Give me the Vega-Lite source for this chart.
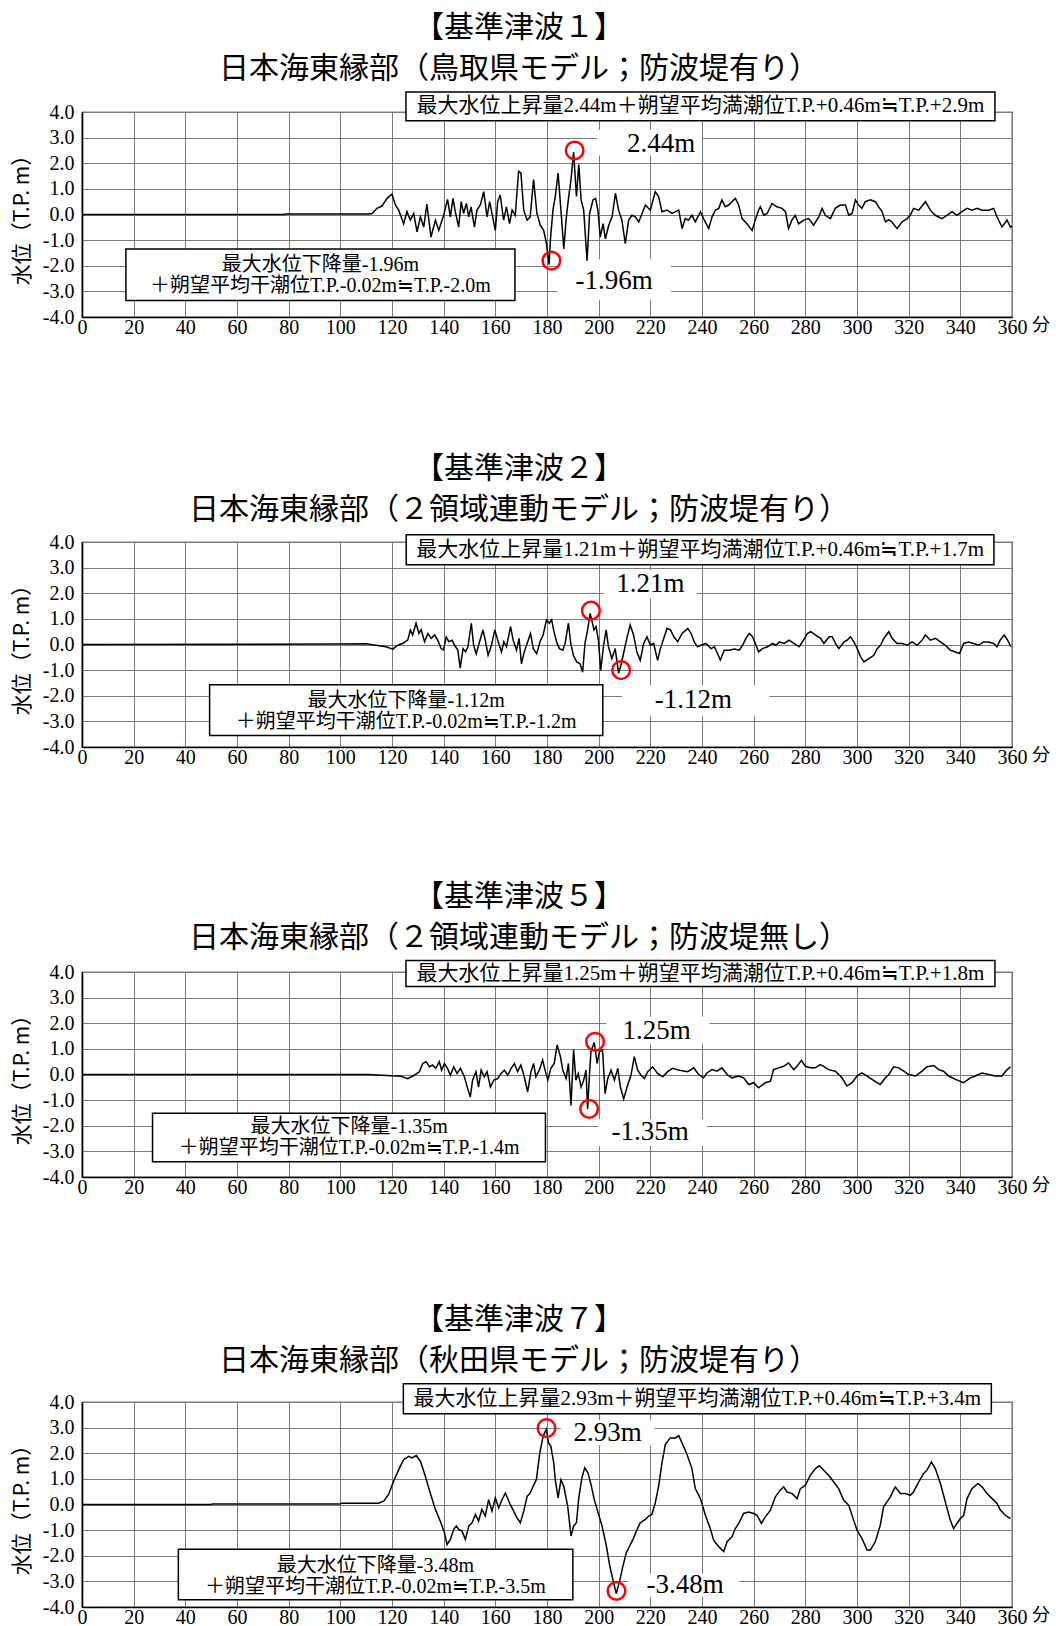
{
"$schema": "https://vega.github.io/schema/vega-lite/v6.json",
"background": "white",
"padding": {"left": 10, "top": 12, "right": 5, "bottom": 5},
"spacing": 225,
"bounds": "flush",
"config": {
  "view": {"stroke": "#000", "strokeWidth": 1.2},
  "axis": {"gridColor": "#7a7a7a", "gridWidth": 1, "gridOpacity": 1, "domainColor": "#000", "domainWidth": 1.6, "ticks": false, "labelFont": "Liberation Serif", "labelFontSize": 20, "labelColor": "#000", "labelOverlap": false, "titleFont": "Noto Sans CJK JP", "titleFontWeight": "normal", "titleFontSize": 21, "titleColor": "#000"},
  "axisX": {"labelPadding": 0, "labelFlush": false},
  "axisY": {"labelPadding": 8, "titlePadding": 10},
  "title": {"font": "Noto Sans CJK JP", "fontSize": 30, "fontWeight": "normal", "lineHeight": 41, "dx": -28, "offset": 7, "color": "#000", "anchor": "middle"}
},
"datasets": {
"d1": [{"t":0,"v":0},{"t":78,"v":0},{"t":79,"v":0.02},{"t":111,"v":0.02},{"t":112.3,"v":0.04},{"t":114.2,"v":0.24},{"t":116.1,"v":0.33},{"t":118.1,"v":0.63},{"t":120,"v":0.8},{"t":121.3,"v":0.37},{"t":122.6,"v":0.17},{"t":124.5,"v":-0.36},{"t":125.8,"v":0.11},{"t":127.1,"v":-0.22},{"t":128.4,"v":0.04},{"t":129.7,"v":-0.68},{"t":131,"v":-0.09},{"t":132.3,"v":-0.49},{"t":133.5,"v":0.41},{"t":135.1,"v":-0.88},{"t":136.8,"v":-0.22},{"t":138.1,"v":-0.62},{"t":140,"v":-0.03},{"t":141.5,"v":0.59},{"t":142.6,"v":-0.09},{"t":143.6,"v":0.63},{"t":144.5,"v":0.11},{"t":145.8,"v":-0.49},{"t":146.8,"v":0.5},{"t":147.7,"v":0.04},{"t":148.8,"v":0.43},{"t":149.7,"v":-0.09},{"t":150.6,"v":0.3},{"t":151.9,"v":-0.49},{"t":152.9,"v":0.17},{"t":154.2,"v":0.37},{"t":155.5,"v":0.89},{"t":156.8,"v":-0.09},{"t":157.8,"v":0.5},{"t":158.7,"v":0.04},{"t":160,"v":-0.62},{"t":160.9,"v":0.5},{"t":161.9,"v":0.76},{"t":163.2,"v":-0.22},{"t":164.3,"v":0.3},{"t":165.5,"v":-0.36},{"t":166.5,"v":0.17},{"t":167.7,"v":-0.03},{"t":169,"v":1.68},{"t":169.9,"v":1.62},{"t":171,"v":0.17},{"t":172.3,"v":-0.22},{"t":173.5,"v":-0.09},{"t":174.8,"v":1.36},{"t":176.1,"v":0.04},{"t":177.4,"v":-0.42},{"t":178.7,"v":-0.62},{"t":179.7,"v":-1.08},{"t":180.8,"v":-1.96},{"t":181.3,"v":-1.01},{"t":182.3,"v":0.17},{"t":183.2,"v":0.7},{"t":184.3,"v":1.62},{"t":185.2,"v":0.43},{"t":186.5,"v":-1.34},{"t":187.5,"v":-0.09},{"t":188.4,"v":0.7},{"t":189.3,"v":1.36},{"t":190.3,"v":2.44},{"t":191.4,"v":0.7},{"t":192.3,"v":1.95},{"t":193.2,"v":0.57},{"t":194.2,"v":0.17},{"t":195.5,"v":-1.8},{"t":196.5,"v":0.04},{"t":197.8,"v":0.57},{"t":198.8,"v":0.63},{"t":199.7,"v":0.17},{"t":200.6,"v":-0.88},{"t":201.7,"v":-0.36},{"t":202.6,"v":-0.95},{"t":203.9,"v":-0.42},{"t":205.2,"v":-0.09},{"t":206.5,"v":0.83},{"t":207.7,"v":0.17},{"t":209,"v":-0.22},{"t":210.3,"v":-1.14},{"t":211.6,"v":-0.22},{"t":212.9,"v":-0.03},{"t":214.2,"v":-0.09},{"t":215.5,"v":-0.29},{"t":216.8,"v":0.04},{"t":218.1,"v":0.37},{"t":220,"v":0.17},{"t":221.9,"v":0.89},{"t":223.2,"v":0.7},{"t":224.5,"v":0.11},{"t":226.5,"v":0.17},{"t":228.4,"v":0.04},{"t":231,"v":0.17},{"t":232.3,"v":-0.55},{"t":233.5,"v":-0.16},{"t":234.8,"v":-0.22},{"t":236.1,"v":-0.03},{"t":237.4,"v":-0.29},{"t":239.4,"v":0.11},{"t":240.6,"v":-0.16},{"t":242.6,"v":-0.55},{"t":243.9,"v":-0.09},{"t":245.2,"v":0.17},{"t":246.5,"v":0.24},{"t":247.7,"v":0.57},{"t":249,"v":0.3},{"t":250.3,"v":0.37},{"t":251.6,"v":0.5},{"t":252.9,"v":0.63},{"t":254.2,"v":0.37},{"t":255.5,"v":-0.16},{"t":257.4,"v":-0.36},{"t":259.4,"v":-0.62},{"t":260.6,"v":-0.22},{"t":261.9,"v":0.17},{"t":262.6,"v":0.3},{"t":263.9,"v":-0.03},{"t":265.2,"v":0.04},{"t":267.1,"v":0.43},{"t":269,"v":0.3},{"t":271,"v":0.24},{"t":272.3,"v":0.11},{"t":273.5,"v":-0.55},{"t":274.8,"v":-0.22},{"t":276.1,"v":-0.03},{"t":277.4,"v":-0.36},{"t":279.4,"v":-0.22},{"t":281.3,"v":-0.16},{"t":283.2,"v":-0.42},{"t":285.2,"v":-0.09},{"t":286.5,"v":0.24},{"t":287.7,"v":-0.03},{"t":289.7,"v":-0.16},{"t":291.6,"v":0.24},{"t":293.5,"v":0.37},{"t":295.5,"v":0.37},{"t":296.8,"v":-0.03},{"t":298.1,"v":0.04},{"t":299.4,"v":0.57},{"t":300.6,"v":0.37},{"t":301.9,"v":0.24},{"t":303.2,"v":0.5},{"t":305.2,"v":0.57},{"t":307.1,"v":0.5},{"t":308.4,"v":0.3},{"t":309.7,"v":0.11},{"t":311,"v":-0.29},{"t":312.3,"v":-0.2},{"t":313.5,"v":-0.29},{"t":315.5,"v":-0.55},{"t":317.4,"v":-0.29},{"t":319.4,"v":-0.16},{"t":320.6,"v":-0.03},{"t":321.9,"v":0.24},{"t":323.9,"v":0.17},{"t":326.5,"v":0.5},{"t":328.4,"v":0.17},{"t":330.3,"v":-0.03},{"t":332.9,"v":-0.16},{"t":334.8,"v":-0.03},{"t":336.8,"v":0.11},{"t":338.7,"v":-0.03},{"t":340.6,"v":0.11},{"t":342.6,"v":0.24},{"t":344.5,"v":0.17},{"t":346.5,"v":0.24},{"t":348.4,"v":0.17},{"t":351,"v":0.17},{"t":352.9,"v":0.24},{"t":354.2,"v":-0.09},{"t":356.1,"v":-0.49},{"t":358.1,"v":-0.22},{"t":359.4,"v":-0.49},{"t":360,"v":-0.45}],
"d2": [{"t":0,"v":0},{"t":100,"v":0.02},{"t":109.9,"v":0.03},{"t":117.7,"v":-0.09},{"t":120.3,"v":-0.18},{"t":122.2,"v":-0.03},{"t":124.1,"v":0.04},{"t":126.1,"v":0.17},{"t":127.1,"v":0.57},{"t":128,"v":0.37},{"t":129.3,"v":0.83},{"t":130.4,"v":0.43},{"t":131.3,"v":0.57},{"t":132.6,"v":0.11},{"t":133.9,"v":0.43},{"t":135.2,"v":0.24},{"t":136.5,"v":0.37},{"t":137.7,"v":0.17},{"t":139,"v":-0.16},{"t":139.9,"v":-0.22},{"t":141,"v":0.3},{"t":142,"v":0.11},{"t":143.3,"v":0.17},{"t":144.2,"v":-0.03},{"t":145.5,"v":-0.22},{"t":146.4,"v":-0.92},{"t":147.5,"v":-0.16},{"t":148.5,"v":-0.29},{"t":149.4,"v":-0.09},{"t":150.7,"v":0.83},{"t":151.6,"v":-0.03},{"t":152.6,"v":-0.36},{"t":153.9,"v":0.11},{"t":155.2,"v":0.57},{"t":156.1,"v":0.17},{"t":157.2,"v":-0.42},{"t":158.5,"v":-0.03},{"t":159.8,"v":0.57},{"t":161.1,"v":0.11},{"t":162.4,"v":-0.29},{"t":163.3,"v":0.11},{"t":164.3,"v":-0.09},{"t":165.9,"v":0.7},{"t":166.9,"v":0.17},{"t":168.2,"v":-0.22},{"t":169.2,"v":0.24},{"t":170.1,"v":-0.75},{"t":171.2,"v":-0.29},{"t":172.3,"v":0.04},{"t":173.6,"v":0.43},{"t":174.7,"v":-0.16},{"t":176,"v":-0.36},{"t":177.3,"v":0.11},{"t":178.5,"v":0.37},{"t":179.8,"v":0.96},{"t":180.9,"v":0.83},{"t":181.8,"v":0.96},{"t":182.7,"v":0.5},{"t":183.7,"v":0.11},{"t":184.8,"v":-0.16},{"t":186.1,"v":-0.22},{"t":187,"v":0.04},{"t":188.3,"v":0.83},{"t":189.2,"v":0.04},{"t":190.2,"v":-0.42},{"t":191.5,"v":-0.68},{"t":192.8,"v":-0.75},{"t":193.8,"v":-1.08},{"t":194.7,"v":0.04},{"t":195.6,"v":0.5},{"t":196.7,"v":1.21},{"t":197.3,"v":0.96},{"t":198.2,"v":0.57},{"t":199,"v":0.7},{"t":199.9,"v":0.17},{"t":200.8,"v":-1.01},{"t":201.9,"v":-0.03},{"t":202.9,"v":0.57},{"t":203.8,"v":-0.09},{"t":205.1,"v":-0.55},{"t":206.4,"v":-0.16},{"t":207.7,"v":-1.12},{"t":208.6,"v":-0.82},{"t":209.6,"v":-0.36},{"t":210.9,"v":0.24},{"t":212.2,"v":0.76},{"t":213.5,"v":0.37},{"t":214.8,"v":-0.29},{"t":216.1,"v":-0.62},{"t":217.4,"v":0.04},{"t":218.7,"v":0.3},{"t":220,"v":-0.03},{"t":221.3,"v":0.04},{"t":222.8,"v":-0.62},{"t":223.9,"v":-0.16},{"t":225.2,"v":0.24},{"t":226.5,"v":0.63},{"t":227.8,"v":0.57},{"t":229.1,"v":0.3},{"t":230.6,"v":0.11},{"t":232.3,"v":0.43},{"t":234.5,"v":0.63},{"t":235.8,"v":0.43},{"t":237,"v":0.1},{"t":238.3,"v":-0.09},{"t":239.6,"v":-0.03},{"t":241.5,"v":0.04},{"t":243.5,"v":-0.16},{"t":244.8,"v":-0.09},{"t":246,"v":-0.35},{"t":247.1,"v":-0.61},{"t":248.6,"v":-0.22},{"t":250.6,"v":-0.22},{"t":252.5,"v":-0.18},{"t":254.4,"v":-0.22},{"t":255.7,"v":-0.03},{"t":257,"v":0.24},{"t":258.3,"v":0.43},{"t":259.6,"v":0.3},{"t":260.9,"v":-0.03},{"t":261.9,"v":-0.29},{"t":263.4,"v":-0.16},{"t":265.4,"v":-0.09},{"t":267.3,"v":0.04},{"t":268.6,"v":-0.03},{"t":269.9,"v":0.1},{"t":271.8,"v":0.04},{"t":273.7,"v":0.17},{"t":275.6,"v":0.04},{"t":277.6,"v":-0.09},{"t":279.3,"v":0.17},{"t":280.8,"v":0.43},{"t":282.1,"v":0.5},{"t":284,"v":0.37},{"t":285.9,"v":0.24},{"t":287.2,"v":0.04},{"t":289.2,"v":0.3},{"t":290.4,"v":0.3},{"t":292.1,"v":-0.03},{"t":293,"v":-0.16},{"t":295,"v":0.1},{"t":296.2,"v":0.17},{"t":297.5,"v":0.3},{"t":298.8,"v":0.1},{"t":300.1,"v":-0.16},{"t":301.4,"v":-0.48},{"t":302.7,"v":-0.68},{"t":304.6,"v":-0.55},{"t":306.5,"v":-0.42},{"t":307.8,"v":-0.16},{"t":309.1,"v":-0.03},{"t":310.4,"v":0.24},{"t":312.3,"v":0.5},{"t":313.6,"v":0.24},{"t":315.5,"v":0.04},{"t":317.5,"v":0.04},{"t":319.4,"v":-0.03},{"t":321.3,"v":0.1},{"t":323.3,"v":-0.03},{"t":325.2,"v":0.17},{"t":326.5,"v":0.37},{"t":328.4,"v":0.17},{"t":330.4,"v":0.24},{"t":332.3,"v":0.1},{"t":334.2,"v":-0.03},{"t":336.1,"v":-0.22},{"t":338.1,"v":-0.29},{"t":339.7,"v":-0.35},{"t":341.3,"v":0.04},{"t":343.2,"v":0.1},{"t":345.1,"v":0.04},{"t":347.1,"v":-0.03},{"t":349,"v":0.1},{"t":350.9,"v":0.1},{"t":352.9,"v":0.04},{"t":354.2,"v":-0.09},{"t":355.4,"v":0.17},{"t":357,"v":0.37},{"t":358.3,"v":0.17},{"t":359.6,"v":-0.09}],
"d3": [{"t":0,"v":0},{"t":110.6,"v":0},{"t":123.5,"v":-0.07},{"t":126.1,"v":-0.16},{"t":128.6,"v":-0.03},{"t":130.6,"v":0.11},{"t":131.9,"v":0.43},{"t":133.2,"v":0.5},{"t":134.5,"v":0.3},{"t":135.7,"v":0.37},{"t":137,"v":0.24},{"t":138.3,"v":0.5},{"t":139.2,"v":0.17},{"t":140.3,"v":0.43},{"t":141.5,"v":0.24},{"t":142.6,"v":-0.03},{"t":143.9,"v":0.3},{"t":145.2,"v":0.04},{"t":146.5,"v":0.24},{"t":148,"v":-0.09},{"t":149.3,"v":-0.55},{"t":150.3,"v":-0.88},{"t":151.2,"v":-0.22},{"t":152.5,"v":0.11},{"t":153.5,"v":-0.49},{"t":154.5,"v":0.17},{"t":155.7,"v":-0.09},{"t":156.8,"v":0.11},{"t":158.1,"v":-0.49},{"t":159.4,"v":-0.22},{"t":160.9,"v":-0.16},{"t":162.2,"v":0.04},{"t":163.5,"v":0.17},{"t":164.8,"v":-0.03},{"t":166.1,"v":0.24},{"t":167.4,"v":0.43},{"t":168.6,"v":0.11},{"t":169.9,"v":0.37},{"t":171.2,"v":-0.09},{"t":172.5,"v":-0.68},{"t":173.8,"v":0.11},{"t":174.8,"v":0.43},{"t":175.7,"v":-0.09},{"t":177,"v":0.17},{"t":178.3,"v":0.57},{"t":179.4,"v":0.11},{"t":180.3,"v":-0.22},{"t":181.5,"v":0.24},{"t":182.8,"v":0.43},{"t":183.9,"v":1.16},{"t":185.2,"v":0.7},{"t":186.1,"v":0.17},{"t":187.4,"v":-0.16},{"t":188.3,"v":0.43},{"t":189.3,"v":-1.21},{"t":190.3,"v":0.96},{"t":191.2,"v":-0.22},{"t":192.1,"v":0.04},{"t":193.2,"v":-0.49},{"t":194.2,"v":-0.22},{"t":195.1,"v":0.17},{"t":195.7,"v":-1.35},{"t":196.4,"v":-0.09},{"t":197,"v":0.89},{"t":198.3,"v":1.25},{"t":199.4,"v":0.43},{"t":200.3,"v":0.89},{"t":201.5,"v":0.96},{"t":202.5,"v":-0.75},{"t":203.5,"v":-0.16},{"t":204.8,"v":0.17},{"t":206.1,"v":-0.22},{"t":207.4,"v":0.24},{"t":208.4,"v":-0.49},{"t":209.7,"v":-0.95},{"t":211,"v":-0.49},{"t":212.5,"v":-0.03},{"t":213.8,"v":0.7},{"t":215.1,"v":0.17},{"t":216.4,"v":-0.03},{"t":217.7,"v":-0.16},{"t":219,"v":0.11},{"t":220.9,"v":0.3},{"t":222.8,"v":0.04},{"t":224.8,"v":-0.09},{"t":226.7,"v":0.11},{"t":228.6,"v":0.24},{"t":231.2,"v":0.17},{"t":234.5,"v":0.11},{"t":236.8,"v":0.26},{"t":238.7,"v":0},{"t":240.6,"v":-0.13},{"t":241.9,"v":0.06},{"t":243.9,"v":0.19},{"t":245.8,"v":0.13},{"t":247.7,"v":0.26},{"t":249.7,"v":0},{"t":251.6,"v":-0.13},{"t":254.2,"v":-0.06},{"t":256.1,"v":-0.13},{"t":258.1,"v":-0.39},{"t":260,"v":-0.32},{"t":261.9,"v":-0.52},{"t":264.5,"v":-0.32},{"t":266.5,"v":-0.26},{"t":267.7,"v":0.19},{"t":269.7,"v":0.26},{"t":271.6,"v":0.32},{"t":273.5,"v":0.45},{"t":275.5,"v":0.19},{"t":276.8,"v":0.32},{"t":278.5,"v":0.55},{"t":280,"v":0.32},{"t":281.9,"v":0.26},{"t":283.9,"v":0.26},{"t":285.8,"v":0.39},{"t":287.1,"v":0.32},{"t":289,"v":0.19},{"t":291.6,"v":0.13},{"t":294.2,"v":-0.13},{"t":296.1,"v":-0.45},{"t":298.1,"v":-0.32},{"t":300,"v":-0.06},{"t":301.9,"v":0.06},{"t":303.9,"v":-0.06},{"t":305.8,"v":-0.19},{"t":307.7,"v":-0.32},{"t":309,"v":-0.39},{"t":311,"v":-0.13},{"t":312.3,"v":0},{"t":314.2,"v":0.3},{"t":316.1,"v":0.26},{"t":318.1,"v":0.13},{"t":320,"v":0},{"t":322.6,"v":-0.06},{"t":325.2,"v":0.13},{"t":327.1,"v":0.3},{"t":329.7,"v":0.35},{"t":331.6,"v":0.19},{"t":333.5,"v":0.13},{"t":335.5,"v":-0.06},{"t":338.1,"v":-0.19},{"t":341.3,"v":-0.32},{"t":343.9,"v":-0.13},{"t":345.8,"v":-0.06},{"t":348.4,"v":0.06},{"t":351,"v":0},{"t":353.5,"v":-0.06},{"t":356.1,"v":-0.06},{"t":358.1,"v":0.19},{"t":359.4,"v":0.3}],
"d4": [{"t":0,"v":0},{"t":50,"v":0},{"t":50.5,"v":0.02},{"t":100,"v":0.02},{"t":100.5,"v":0.05},{"t":114.8,"v":0.05},{"t":116.8,"v":0.13},{"t":118.7,"v":0.39},{"t":120.6,"v":0.91},{"t":122.6,"v":1.36},{"t":124.5,"v":1.75},{"t":126.5,"v":1.88},{"t":127.7,"v":1.82},{"t":129.4,"v":1.91},{"t":131,"v":1.69},{"t":132.9,"v":1.1},{"t":134.8,"v":0.45},{"t":136.8,"v":-0.19},{"t":138.7,"v":-0.65},{"t":140.3,"v":-1.1},{"t":141.3,"v":-1.56},{"t":142.6,"v":-1.36},{"t":143.9,"v":-0.97},{"t":144.9,"v":-0.84},{"t":145.8,"v":-0.97},{"t":147.1,"v":-1.04},{"t":148.4,"v":-1.36},{"t":149.7,"v":-0.84},{"t":151,"v":-0.71},{"t":152.3,"v":-0.39},{"t":153.5,"v":-0.65},{"t":154.8,"v":-0.19},{"t":156.1,"v":-0.45},{"t":157.4,"v":0.19},{"t":158.7,"v":-0.26},{"t":160,"v":0.26},{"t":161.3,"v":-0.13},{"t":162.6,"v":0.19},{"t":163.9,"v":0.45},{"t":165.5,"v":0.06},{"t":167.1,"v":-0.26},{"t":168.4,"v":-0.52},{"t":169.7,"v":-0.71},{"t":171,"v":-0.26},{"t":172.3,"v":0.32},{"t":173.5,"v":0.45},{"t":174.6,"v":0.71},{"t":175.9,"v":0.97},{"t":177.2,"v":2.01},{"t":178.5,"v":2.66},{"t":179.7,"v":2.93},{"t":180.6,"v":2.4},{"t":181.5,"v":2.27},{"t":182.6,"v":1.62},{"t":183.2,"v":0.97},{"t":184.3,"v":0.26},{"t":185.4,"v":0.97},{"t":186.5,"v":0.71},{"t":188,"v":-0.06},{"t":189.3,"v":-1.23},{"t":190.3,"v":-0.84},{"t":191.4,"v":-0.71},{"t":192.3,"v":0.26},{"t":193.5,"v":1.04},{"t":194.6,"v":1.43},{"t":195.9,"v":1.23},{"t":197.2,"v":0.71},{"t":198.3,"v":0.19},{"t":199.6,"v":-0.26},{"t":201.3,"v":-0.84},{"t":203,"v":-1.62},{"t":204.3,"v":-2.4},{"t":205.5,"v":-2.92},{"t":206.8,"v":-3.48},{"t":208.1,"v":-2.99},{"t":209.4,"v":-2.4},{"t":210.7,"v":-1.88},{"t":212,"v":-1.62},{"t":213.3,"v":-1.36},{"t":214.6,"v":-1.04},{"t":216.1,"v":-0.71},{"t":218.1,"v":-0.58},{"t":219.4,"v":-0.45},{"t":220.6,"v":-0.39},{"t":221.9,"v":0.06},{"t":223.2,"v":0.71},{"t":224.5,"v":1.62},{"t":225.8,"v":2.34},{"t":227.7,"v":2.6},{"t":229.7,"v":2.6},{"t":231,"v":2.69},{"t":232.3,"v":2.4},{"t":234.2,"v":1.95},{"t":236.1,"v":1.4},{"t":237.4,"v":0.62},{"t":239.4,"v":0.23},{"t":241.3,"v":-0.42},{"t":243.2,"v":-0.94},{"t":244.5,"v":-1.39},{"t":246.5,"v":-1.65},{"t":248.4,"v":-1.84},{"t":249.7,"v":-1.45},{"t":251.6,"v":-1.26},{"t":252.9,"v":-0.94},{"t":254.2,"v":-0.74},{"t":256.1,"v":-0.35},{"t":258.1,"v":-0.29},{"t":260,"v":-0.35},{"t":261.3,"v":-0.42},{"t":263,"v":-0.74},{"t":264.5,"v":-0.48},{"t":266.5,"v":-0.22},{"t":268.4,"v":0.3},{"t":270.3,"v":0.56},{"t":271.6,"v":0.69},{"t":272.9,"v":0.49},{"t":274.8,"v":0.43},{"t":276.8,"v":0.23},{"t":278.1,"v":0.62},{"t":280,"v":0.75},{"t":281.9,"v":1.14},{"t":283.9,"v":1.4},{"t":285.4,"v":1.51},{"t":287.1,"v":1.34},{"t":289,"v":1.14},{"t":291,"v":0.88},{"t":292.9,"v":0.62},{"t":294.8,"v":0.17},{"t":296.8,"v":-0.03},{"t":298.7,"v":-0.61},{"t":300,"v":-1.0},{"t":301.9,"v":-1.32},{"t":303.9,"v":-1.78},{"t":305.2,"v":-1.78},{"t":307.1,"v":-1.45},{"t":309,"v":-0.81},{"t":310.3,"v":-0.09},{"t":311.6,"v":0.1},{"t":312.9,"v":0.3},{"t":314.8,"v":0.69},{"t":316.8,"v":0.43},{"t":318.7,"v":0.43},{"t":320.6,"v":0.36},{"t":321.9,"v":0.49},{"t":323.9,"v":0.88},{"t":325.8,"v":1.21},{"t":327.1,"v":1.34},{"t":328.8,"v":1.66},{"t":330.3,"v":1.4},{"t":332.3,"v":0.82},{"t":334.2,"v":0.1},{"t":336.1,"v":-0.61},{"t":337.4,"v":-0.94},{"t":338.7,"v":-0.74},{"t":340,"v":-0.55},{"t":341.3,"v":-0.42},{"t":342.6,"v":0.23},{"t":344.5,"v":0.62},{"t":346.8,"v":0.82},{"t":348.4,"v":0.69},{"t":350.3,"v":0.43},{"t":352.3,"v":0.23},{"t":354.2,"v":0.04},{"t":355.5,"v":-0.22},{"t":357.4,"v":-0.42},{"t":359.4,"v":-0.55}],
"c1": [{"t":190.7,"v":2.5},{"t":181.7,"v":-1.8}],
"c2": [{"t":197,"v":1.32},{"t":208.7,"v":-1.0}],
"c3": [{"t":198.6,"v":1.28},{"t":196.3,"v":-1.34}],
"c4": [{"t":179.8,"v":2.98},{"t":206.9,"v":-3.37}]
},
"vconcat": [
{
 "title": {"text": ["【基準津波１】", "日本海東縁部（鳥取県モデル；防波堤有り）"]},
 "width": 930, "height": 205,
 "layer": [
  {"data": {"values": [{}]}, "mark": {"type": "rect", "fill": "white"}, "encoding": {"x": {"datum": 199.4, "type": "quantitative"}, "x2": {"datum": 240}, "y": {"datum": 3.3, "type": "quantitative"}, "y2": {"datum": 2.3}}},
  {"data": {"values": [{}]}, "mark": {"type": "rect", "fill": "white"}, "encoding": {"x": {"datum": 184, "type": "quantitative"}, "x2": {"datum": 228}, "y": {"datum": -1.75, "type": "quantitative"}, "y2": {"datum": -3.35}}},
  {"data": {"name": "d1"}, "mark": {"type": "line", "color": "#000", "strokeWidth": 1.5}, "encoding": {
    "x": {"field": "t", "type": "quantitative", "scale": {"domain": [0, 360], "nice": false, "zero": false}, "axis": {"values": [0,20,40,60,80,100,120,140,160,180,200,220,240,260,280,300,320,340,360], "tickCount": 19, "title": null, "grid": true}},
    "y": {"field": "v", "type": "quantitative", "scale": {"domain": [-4, 4], "nice": false}, "axis": {"values": [-4,-3,-2,-1,0,1,2,3,4], "tickCount": 9, "labelExpr": "replace(format(datum.value, '.1f'), '−', '-')", "title": "水位（T.P. m）", "grid": true}}}},
  {"data": {"values": [{}]}, "mark": {"type": "rect", "fill": "white", "stroke": "#000", "strokeWidth": 1.5}, "encoding": {"x": {"datum": 125.4, "type": "quantitative"}, "x2": {"datum": 353.4}, "y": {"datum": 4.78, "type": "quantitative"}, "y2": {"datum": 3.66}}},
  {"data": {"values": [{}]}, "mark": {"type": "rect", "fill": "white", "stroke": "#000", "strokeWidth": 1.5}, "encoding": {"x": {"datum": 17, "type": "quantitative"}, "x2": {"datum": 167.6}, "y": {"datum": -1.35, "type": "quantitative"}, "y2": {"datum": -3.36}}},
  {"data": {"values": [{}]}, "mark": {"type": "text", "text": "最大水位上昇量2.44m＋朔望平均満潮位T.P.+0.46m≒T.P.+2.9m", "font": "Liberation Serif, Noto Sans CJK JP", "fontSize": 21, "align": "center", "baseline": "middle", "color": "#000"}, "encoding": {"x": {"datum": 239.4, "type": "quantitative"}, "y": {"datum": 4.22, "type": "quantitative"}}},
  {"data": {"values": [{}]}, "mark": {"type": "text", "text": ["最大水位下降量-1.96m", "＋朔望平均干潮位T.P.-0.02m≒T.P.-2.0m"], "lineHeight": 21, "font": "Liberation Serif, Noto Sans CJK JP", "fontSize": 20, "align": "center", "baseline": "middle", "color": "#000"}, "encoding": {"x": {"datum": 92.3, "type": "quantitative"}, "y": {"datum": -1.97, "type": "quantitative"}}},
  {"data": {"values": [{}]}, "mark": {"type": "text", "text": "2.44m", "font": "Liberation Serif", "fontSize": 27, "align": "center", "baseline": "middle", "color": "#000"}, "encoding": {"x": {"datum": 224.2, "type": "quantitative"}, "y": {"datum": 2.74, "type": "quantitative"}}},
  {"data": {"values": [{}]}, "mark": {"type": "text", "text": "-1.96m", "font": "Liberation Serif", "fontSize": 27, "align": "center", "baseline": "middle", "color": "#000"}, "encoding": {"x": {"datum": 206, "type": "quantitative"}, "y": {"datum": -2.61, "type": "quantitative"}}},
  {"data": {"name": "c1"}, "mark": {"type": "point", "shape": "circle", "filled": false, "stroke": "#ff0000", "strokeWidth": 2.5, "size": 310, "opacity": 1}, "encoding": {"x": {"field": "t", "type": "quantitative"}, "y": {"field": "v", "type": "quantitative"}}},
  {"data": {"values": [{}]}, "mark": {"type": "text", "text": "分", "font": "Noto Sans CJK JP", "fontSize": 18, "dx": 29, "dy": 9, "align": "center", "baseline": "middle", "color": "#000"}, "encoding": {"x": {"datum": 360, "type": "quantitative"}, "y": {"datum": -4, "type": "quantitative"}}}
 ]
},
{
 "title": {"text": ["【基準津波２】", "日本海東縁部（２領域連動モデル；防波堤有り）"]},
 "width": 930, "height": 205,
 "layer": [
  {"data": {"values": [{}]}, "mark": {"type": "rect", "fill": "white"}, "encoding": {"x": {"datum": 202, "type": "quantitative"}, "x2": {"datum": 238}, "y": {"datum": 2.9, "type": "quantitative"}, "y2": {"datum": 1.8}}},
  {"data": {"values": [{}]}, "mark": {"type": "rect", "fill": "white"}, "encoding": {"x": {"datum": 209, "type": "quantitative"}, "x2": {"datum": 266}, "y": {"datum": -1.6, "type": "quantitative"}, "y2": {"datum": -2.8}}},
  {"data": {"name": "d2"}, "mark": {"type": "line", "color": "#000", "strokeWidth": 1.5}, "encoding": {
    "x": {"field": "t", "type": "quantitative", "scale": {"domain": [0, 360], "nice": false, "zero": false}, "axis": {"values": [0,20,40,60,80,100,120,140,160,180,200,220,240,260,280,300,320,340,360], "tickCount": 19, "title": null, "grid": true}},
    "y": {"field": "v", "type": "quantitative", "scale": {"domain": [-4, 4], "nice": false}, "axis": {"values": [-4,-3,-2,-1,0,1,2,3,4], "tickCount": 9, "labelExpr": "replace(format(datum.value, '.1f'), '−', '-')", "title": "水位（T.P. m）", "grid": true}}}},
  {"data": {"values": [{}]}, "mark": {"type": "rect", "fill": "white", "stroke": "#000", "strokeWidth": 1.5}, "encoding": {"x": {"datum": 125.5, "type": "quantitative"}, "x2": {"datum": 353}, "y": {"datum": 4.28, "type": "quantitative"}, "y2": {"datum": 3.11}}},
  {"data": {"values": [{}]}, "mark": {"type": "rect", "fill": "white", "stroke": "#000", "strokeWidth": 1.5}, "encoding": {"x": {"datum": 49.4, "type": "quantitative"}, "x2": {"datum": 201.6}, "y": {"datum": -1.57, "type": "quantitative"}, "y2": {"datum": -3.55}}},
  {"data": {"values": [{}]}, "mark": {"type": "text", "text": "最大水位上昇量1.21m＋朔望平均満潮位T.P.+0.46m≒T.P.+1.7m", "font": "Liberation Serif, Noto Sans CJK JP", "fontSize": 21, "align": "center", "baseline": "middle", "color": "#000"}, "encoding": {"x": {"datum": 239.3, "type": "quantitative"}, "y": {"datum": 3.7, "type": "quantitative"}}},
  {"data": {"values": [{}]}, "mark": {"type": "text", "text": ["最大水位下降量-1.12m", "＋朔望平均干潮位T.P.-0.02m≒T.P.-1.2m"], "lineHeight": 21, "font": "Liberation Serif, Noto Sans CJK JP", "fontSize": 20, "align": "center", "baseline": "middle", "color": "#000"}, "encoding": {"x": {"datum": 125.5, "type": "quantitative"}, "y": {"datum": -2.2, "type": "quantitative"}}},
  {"data": {"values": [{}]}, "mark": {"type": "text", "text": "1.21m", "font": "Liberation Serif", "fontSize": 27, "align": "center", "baseline": "middle", "color": "#000"}, "encoding": {"x": {"datum": 220, "type": "quantitative"}, "y": {"datum": 2.35, "type": "quantitative"}}},
  {"data": {"values": [{}]}, "mark": {"type": "text", "text": "-1.12m", "font": "Liberation Serif", "fontSize": 27, "align": "center", "baseline": "middle", "color": "#000"}, "encoding": {"x": {"datum": 236.7, "type": "quantitative"}, "y": {"datum": -2.17, "type": "quantitative"}}},
  {"data": {"name": "c2"}, "mark": {"type": "point", "shape": "circle", "filled": false, "stroke": "#ff0000", "strokeWidth": 2.5, "size": 310, "opacity": 1}, "encoding": {"x": {"field": "t", "type": "quantitative"}, "y": {"field": "v", "type": "quantitative"}}},
  {"data": {"values": [{}]}, "mark": {"type": "text", "text": "分", "font": "Noto Sans CJK JP", "fontSize": 18, "dx": 29, "dy": 9, "align": "center", "baseline": "middle", "color": "#000"}, "encoding": {"x": {"datum": 360, "type": "quantitative"}, "y": {"datum": -4, "type": "quantitative"}}}
 ]
},
{
 "title": {"text": ["【基準津波５】", "日本海東縁部（２領域連動モデル；防波堤無し）"]},
 "width": 930, "height": 205,
 "layer": [
  {"data": {"values": [{}]}, "mark": {"type": "rect", "fill": "white"}, "encoding": {"x": {"datum": 203, "type": "quantitative"}, "x2": {"datum": 243}, "y": {"datum": 2.25, "type": "quantitative"}, "y2": {"datum": 1.2}}},
  {"data": {"values": [{}]}, "mark": {"type": "rect", "fill": "white"}, "encoding": {"x": {"datum": 200, "type": "quantitative"}, "x2": {"datum": 242}, "y": {"datum": -1.75, "type": "quantitative"}, "y2": {"datum": -2.8}}},
  {"data": {"name": "d3"}, "mark": {"type": "line", "color": "#000", "strokeWidth": 1.5}, "encoding": {
    "x": {"field": "t", "type": "quantitative", "scale": {"domain": [0, 360], "nice": false, "zero": false}, "axis": {"values": [0,20,40,60,80,100,120,140,160,180,200,220,240,260,280,300,320,340,360], "tickCount": 19, "title": null, "grid": true}},
    "y": {"field": "v", "type": "quantitative", "scale": {"domain": [-4, 4], "nice": false}, "axis": {"values": [-4,-3,-2,-1,0,1,2,3,4], "tickCount": 9, "labelExpr": "replace(format(datum.value, '.1f'), '−', '-')", "title": "水位（T.P. m）", "grid": true}}}},
  {"data": {"values": [{}]}, "mark": {"type": "rect", "fill": "white", "stroke": "#000", "strokeWidth": 1.5}, "encoding": {"x": {"datum": 125.4, "type": "quantitative"}, "x2": {"datum": 353.4}, "y": {"datum": 4.45, "type": "quantitative"}, "y2": {"datum": 3.43}}},
  {"data": {"values": [{}]}, "mark": {"type": "rect", "fill": "white", "stroke": "#000", "strokeWidth": 1.5}, "encoding": {"x": {"datum": 27.3, "type": "quantitative"}, "x2": {"datum": 179.4}, "y": {"datum": -1.51, "type": "quantitative"}, "y2": {"datum": -3.4}}},
  {"data": {"values": [{}]}, "mark": {"type": "text", "text": "最大水位上昇量1.25m＋朔望平均満潮位T.P.+0.46m≒T.P.+1.8m", "font": "Liberation Serif, Noto Sans CJK JP", "fontSize": 21, "align": "center", "baseline": "middle", "color": "#000"}, "encoding": {"x": {"datum": 239.4, "type": "quantitative"}, "y": {"datum": 3.94, "type": "quantitative"}}},
  {"data": {"values": [{}]}, "mark": {"type": "text", "text": ["最大水位下降量-1.35m", "＋朔望平均干潮位T.P.-0.02m≒T.P.-1.4m"], "lineHeight": 21, "font": "Liberation Serif, Noto Sans CJK JP", "fontSize": 20, "align": "center", "baseline": "middle", "color": "#000"}, "encoding": {"x": {"datum": 103.4, "type": "quantitative"}, "y": {"datum": -2.05, "type": "quantitative"}}},
  {"data": {"values": [{}]}, "mark": {"type": "text", "text": "1.25m", "font": "Liberation Serif", "fontSize": 27, "align": "center", "baseline": "middle", "color": "#000"}, "encoding": {"x": {"datum": 222.4, "type": "quantitative"}, "y": {"datum": 1.68, "type": "quantitative"}}},
  {"data": {"values": [{}]}, "mark": {"type": "text", "text": "-1.35m", "font": "Liberation Serif", "fontSize": 27, "align": "center", "baseline": "middle", "color": "#000"}, "encoding": {"x": {"datum": 219.9, "type": "quantitative"}, "y": {"datum": -2.26, "type": "quantitative"}}},
  {"data": {"name": "c3"}, "mark": {"type": "point", "shape": "circle", "filled": false, "stroke": "#ff0000", "strokeWidth": 2.5, "size": 310, "opacity": 1}, "encoding": {"x": {"field": "t", "type": "quantitative"}, "y": {"field": "v", "type": "quantitative"}}},
  {"data": {"values": [{}]}, "mark": {"type": "text", "text": "分", "font": "Noto Sans CJK JP", "fontSize": 18, "dx": 29, "dy": 9, "align": "center", "baseline": "middle", "color": "#000"}, "encoding": {"x": {"datum": 360, "type": "quantitative"}, "y": {"datum": -4, "type": "quantitative"}}}
 ]
},
{
 "title": {"text": ["【基準津波７】", "日本海東縁部（秋田県モデル；防波堤有り）"]},
 "width": 930, "height": 205,
 "layer": [
  {"data": {"values": [{}]}, "mark": {"type": "rect", "fill": "white"}, "encoding": {"x": {"datum": 185.4, "type": "quantitative"}, "x2": {"datum": 221.6}, "y": {"datum": 3.3, "type": "quantitative"}, "y2": {"datum": 2.3}}},
  {"data": {"values": [{}]}, "mark": {"type": "rect", "fill": "white"}, "encoding": {"x": {"datum": 211.4, "type": "quantitative"}, "x2": {"datum": 254.4}, "y": {"datum": -2.7, "type": "quantitative"}, "y2": {"datum": -3.6}}},
  {"data": {"name": "d4"}, "mark": {"type": "line", "color": "#000", "strokeWidth": 1.5}, "encoding": {
    "x": {"field": "t", "type": "quantitative", "scale": {"domain": [0, 360], "nice": false, "zero": false}, "axis": {"values": [0,20,40,60,80,100,120,140,160,180,200,220,240,260,280,300,320,340,360], "tickCount": 19, "title": null, "grid": true}},
    "y": {"field": "v", "type": "quantitative", "scale": {"domain": [-4, 4], "nice": false}, "axis": {"values": [-4,-3,-2,-1,0,1,2,3,4], "tickCount": 9, "labelExpr": "replace(format(datum.value, '.1f'), '−', '-')", "title": "水位（T.P. m）", "grid": true}}}},
  {"data": {"values": [{}]}, "mark": {"type": "rect", "fill": "white", "stroke": "#000", "strokeWidth": 1.5}, "encoding": {"x": {"datum": 124.4, "type": "quantitative"}, "x2": {"datum": 352}, "y": {"datum": 4.71, "type": "quantitative"}, "y2": {"datum": 3.54}}},
  {"data": {"values": [{}]}, "mark": {"type": "rect", "fill": "white", "stroke": "#000", "strokeWidth": 1.5}, "encoding": {"x": {"datum": 37.3, "type": "quantitative"}, "x2": {"datum": 190}, "y": {"datum": -1.75, "type": "quantitative"}, "y2": {"datum": -3.72}}},
  {"data": {"values": [{}]}, "mark": {"type": "text", "text": "最大水位上昇量2.93m＋朔望平均満潮位T.P.+0.46m≒T.P.+3.4m", "font": "Liberation Serif, Noto Sans CJK JP", "fontSize": 21, "align": "center", "baseline": "middle", "color": "#000"}, "encoding": {"x": {"datum": 238.2, "type": "quantitative"}, "y": {"datum": 4.12, "type": "quantitative"}}},
  {"data": {"values": [{}]}, "mark": {"type": "text", "text": ["最大水位下降量-3.48m", "＋朔望平均干潮位T.P.-0.02m≒T.P.-3.5m"], "lineHeight": 21, "font": "Liberation Serif, Noto Sans CJK JP", "fontSize": 20, "align": "center", "baseline": "middle", "color": "#000"}, "encoding": {"x": {"datum": 113.6, "type": "quantitative"}, "y": {"datum": -2.4, "type": "quantitative"}}},
  {"data": {"values": [{}]}, "mark": {"type": "text", "text": "2.93m", "font": "Liberation Serif", "fontSize": 27, "align": "center", "baseline": "middle", "color": "#000"}, "encoding": {"x": {"datum": 203.5, "type": "quantitative"}, "y": {"datum": 2.79, "type": "quantitative"}}},
  {"data": {"values": [{}]}, "mark": {"type": "text", "text": "-3.48m", "font": "Liberation Serif", "fontSize": 27, "align": "center", "baseline": "middle", "color": "#000"}, "encoding": {"x": {"datum": 233.5, "type": "quantitative"}, "y": {"datum": -3.15, "type": "quantitative"}}},
  {"data": {"name": "c4"}, "mark": {"type": "point", "shape": "circle", "filled": false, "stroke": "#ff0000", "strokeWidth": 2.5, "size": 310, "opacity": 1}, "encoding": {"x": {"field": "t", "type": "quantitative"}, "y": {"field": "v", "type": "quantitative"}}},
  {"data": {"values": [{}]}, "mark": {"type": "text", "text": "分", "font": "Noto Sans CJK JP", "fontSize": 18, "dx": 29, "dy": 9, "align": "center", "baseline": "middle", "color": "#000"}, "encoding": {"x": {"datum": 360, "type": "quantitative"}, "y": {"datum": -4, "type": "quantitative"}}}
 ]
}
]
}
